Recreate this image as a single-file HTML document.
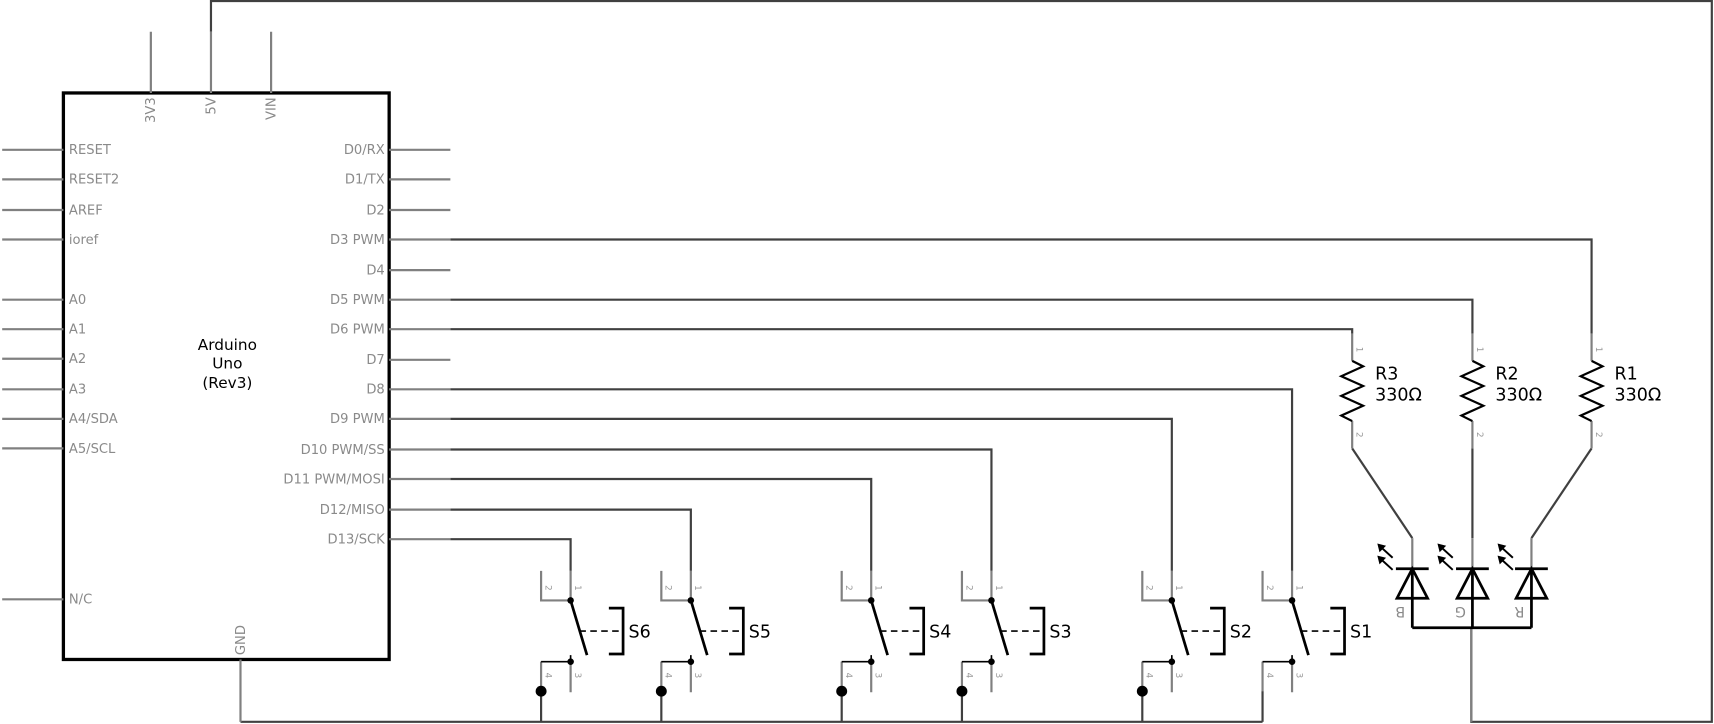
<!DOCTYPE html>
<html><head><meta charset="utf-8"><style>
html,body{margin:0;padding:0;background:#fff}
svg{display:block}
text{font-family:"DejaVu Sans","Liberation Sans",sans-serif}
.pl{fill:#8a8a8a;font-size:12px}
.pn{fill:#999;font-size:8px}
.w{stroke:#404040;stroke-width:2;fill:none}
.p{stroke:#808080;stroke-width:2;fill:none}
.k{stroke:#000;fill:none}
</style></head><body>
<svg width="1714" height="724" viewBox="0 0 1568 662" preserveAspectRatio="none" xmlns="http://www.w3.org/2000/svg">
<rect width="1568" height="662" fill="#fff"/>
<path class="w" d="M193 29 V1 H1566 V660 H1346 V574"/>
<path class="w" d="M412 219 H1456 V305"/>
<path class="w" d="M412 274 H1347 V305"/>
<path class="w" d="M412 301 H1237 V305"/>
<path class="w" d="M412 356 H1182 V522"/>
<path class="w" d="M412 383 H1072 V522"/>
<path class="w" d="M412 411 H907 V522"/>
<path class="w" d="M412 438 H797 V522"/>
<path class="w" d="M412 466 H632 V522"/>
<path class="w" d="M412 493 H522 V522"/>
<path class="w" d="M220 660 H1155"/>
<path class="w" d="M1237 410 L1292 492"/>
<path class="w" d="M1347 410 V492"/>
<path class="w" d="M1456 410 L1401 492"/>
<rect x="58" y="85" width="298" height="518" fill="none" stroke="#000" stroke-width="3"/>
<g class="p">
<path d="M138 29V85M193 29V85M248 29V85M220 603V660"/>
<path d="M2 137H58M2 164H58M2 192H58M2 219H58M2 274H58M2 301H58M2 328H58M2 356H58M2 383H58M2 410H58M2 548H58"/>
<path d="M356 137H412M356 164H412M356 192H412M356 219H412M356 247H412M356 274H412M356 301H412M356 329H412M356 356H412M356 383H412M356 411H412M356 438H412M356 466H412M356 493H412"/>
</g>
<g class="pl">
<text x="63" y="141">RESET</text>
<text x="63" y="168">RESET2</text>
<text x="63" y="196">AREF</text>
<text x="63" y="223">ioref</text>
<text x="63" y="278">A0</text>
<text x="63" y="305">A1</text>
<text x="63" y="332">A2</text>
<text x="63" y="360">A3</text>
<text x="63" y="387">A4/SDA</text>
<text x="63" y="414">A5/SCL</text>
<text x="63" y="552">N/C</text>
</g>
<g class="pl" text-anchor="end">
<text x="352" y="141">D0/RX</text>
<text x="352" y="168">D1/TX</text>
<text x="352" y="196">D2</text>
<text x="352" y="223">D3 PWM</text>
<text x="352" y="251">D4</text>
<text x="352" y="278">D5 PWM</text>
<text x="352" y="305">D6 PWM</text>
<text x="352" y="333">D7</text>
<text x="352" y="360">D8</text>
<text x="352" y="387">D9 PWM</text>
<text x="352" y="415">D10 PWM/SS</text>
<text x="352" y="442">D11 PWM/MOSI</text>
<text x="352" y="470">D12/MISO</text>
<text x="352" y="497">D13/SCK</text>
</g>
<g class="pl" text-anchor="end">
<text transform="translate(142,89) rotate(-90)">3V3</text>
<text transform="translate(197,89) rotate(-90)">5V</text>
<text transform="translate(252,89) rotate(-90)">VIN</text>
</g>
<text class="pl" transform="translate(224,599) rotate(-90)">GND</text>
<g font-size="14" text-anchor="middle" fill="#000">
<text x="208" y="320">Arduino</text>
<text x="208" y="337">Uno</text>
<text x="208" y="355">(Rev3)</text>
</g>
<g class="p"><path d="M1237 305V330M1237 385V410M1347 305V330M1347 385V410M1456 305V330M1456 385V410"/></g>
<g class="k" stroke-width="2">
<path d="M1237 330 L1247 335 L1227 344 L1247 353 L1227 362 L1247 371 L1227 380 L1237 385"/>
<path d="M1347 330 L1357 335 L1337 344 L1357 353 L1337 362 L1357 371 L1337 380 L1347 385"/>
<path d="M1456 330 L1466 335 L1446 344 L1466 353 L1446 362 L1466 371 L1446 380 L1456 385"/>
</g>
<g class="pn">
<text transform="translate(1241,317) rotate(90)">1</text>
<text transform="translate(1241,395) rotate(90)">2</text>
<text transform="translate(1351,317) rotate(90)">1</text>
<text transform="translate(1351,395) rotate(90)">2</text>
<text transform="translate(1460,317) rotate(90)">1</text>
<text transform="translate(1460,395) rotate(90)">2</text>
</g>
<g font-size="16" fill="#000">
<text x="1258" y="347">R3</text><text x="1258" y="366">330Ω</text>
<text x="1368" y="347">R2</text><text x="1368" y="366">330Ω</text>
<text x="1477" y="347">R1</text><text x="1477" y="366">330Ω</text>
</g>
<g class="p"><path d="M1292 492V520M1347 492V520M1401 492V520M1346 574V660"/></g>
<g class="k" stroke-width="2.5">
<path d="M1277 520H1307M1292 520L1278 547H1306Z M1292 520V574"/>
<path d="M1332 520H1362M1347 520L1333 547H1361Z M1347 520V574"/>
<path d="M1386 520H1416M1401 520L1387 547H1415Z M1401 520V574"/>
<path d="M1292 574H1401"/>
</g>
<g stroke="#000" stroke-width="1.8" fill="none">
<path d="M1274 510L1263 500M1274 521L1263 511"/>
<path d="M1329 510L1318 500M1329 521L1318 511"/>
<path d="M1384 510L1373 500M1384 521L1373 511"/>
</g>
<g fill="#000">
<path d="M1260 497L1268 499L1262 505Z M1260 508L1268 510L1262 516Z"/>
<path d="M1315 497L1323 499L1317 505Z M1315 508L1323 510L1317 516Z"/>
<path d="M1370 497L1378 499L1372 505Z M1370 508L1378 510L1372 516Z"/>
</g>
<g class="pl" text-anchor="middle" style="font-size:13px">
<text transform="translate(1281,555) rotate(180)">B</text>
<text transform="translate(1336,555) rotate(180)">G</text>
<text transform="translate(1390,555) rotate(180)">R</text>
</g>
<g transform="translate(522,0)">
<path class="p" d="M-27 522V549H0M0 522V549M0 605V633M-27 605V632"/><path class="w" d="M-27 632V660"/>
<path class="k" stroke-width="1.5" d="M-27 605H0V599"/>
<circle cx="0" cy="549" r="3" fill="#000"/><circle cx="0" cy="605" r="3" fill="#000"/>
<path class="k" stroke-width="2.5" d="M0 549L15 599M35 556H48V598H35"/>
<path class="k" stroke-width="1.5" stroke-dasharray="6,4" d="M8 577H48"/>
<circle cx="-27" cy="632" r="5" fill="#000"/>
<g class="pn"><text transform="translate(-23,535) rotate(90)">2</text><text transform="translate(4,535) rotate(90)">1</text><text transform="translate(-23,615) rotate(90)">4</text><text transform="translate(4,615) rotate(90)">3</text></g>
<text x="53" y="583" font-size="16">S6</text>
</g>
<g transform="translate(632,0)">
<path class="p" d="M-27 522V549H0M0 522V549M0 605V633M-27 605V632"/><path class="w" d="M-27 632V660"/>
<path class="k" stroke-width="1.5" d="M-27 605H0V599"/>
<circle cx="0" cy="549" r="3" fill="#000"/><circle cx="0" cy="605" r="3" fill="#000"/>
<path class="k" stroke-width="2.5" d="M0 549L15 599M35 556H48V598H35"/>
<path class="k" stroke-width="1.5" stroke-dasharray="6,4" d="M8 577H48"/>
<circle cx="-27" cy="632" r="5" fill="#000"/>
<g class="pn"><text transform="translate(-23,535) rotate(90)">2</text><text transform="translate(4,535) rotate(90)">1</text><text transform="translate(-23,615) rotate(90)">4</text><text transform="translate(4,615) rotate(90)">3</text></g>
<text x="53" y="583" font-size="16">S5</text>
</g>
<g transform="translate(797,0)">
<path class="p" d="M-27 522V549H0M0 522V549M0 605V633M-27 605V632"/><path class="w" d="M-27 632V660"/>
<path class="k" stroke-width="1.5" d="M-27 605H0V599"/>
<circle cx="0" cy="549" r="3" fill="#000"/><circle cx="0" cy="605" r="3" fill="#000"/>
<path class="k" stroke-width="2.5" d="M0 549L15 599M35 556H48V598H35"/>
<path class="k" stroke-width="1.5" stroke-dasharray="6,4" d="M8 577H48"/>
<circle cx="-27" cy="632" r="5" fill="#000"/>
<g class="pn"><text transform="translate(-23,535) rotate(90)">2</text><text transform="translate(4,535) rotate(90)">1</text><text transform="translate(-23,615) rotate(90)">4</text><text transform="translate(4,615) rotate(90)">3</text></g>
<text x="53" y="583" font-size="16">S4</text>
</g>
<g transform="translate(907,0)">
<path class="p" d="M-27 522V549H0M0 522V549M0 605V633M-27 605V632"/><path class="w" d="M-27 632V660"/>
<path class="k" stroke-width="1.5" d="M-27 605H0V599"/>
<circle cx="0" cy="549" r="3" fill="#000"/><circle cx="0" cy="605" r="3" fill="#000"/>
<path class="k" stroke-width="2.5" d="M0 549L15 599M35 556H48V598H35"/>
<path class="k" stroke-width="1.5" stroke-dasharray="6,4" d="M8 577H48"/>
<circle cx="-27" cy="632" r="5" fill="#000"/>
<g class="pn"><text transform="translate(-23,535) rotate(90)">2</text><text transform="translate(4,535) rotate(90)">1</text><text transform="translate(-23,615) rotate(90)">4</text><text transform="translate(4,615) rotate(90)">3</text></g>
<text x="53" y="583" font-size="16">S3</text>
</g>
<g transform="translate(1072,0)">
<path class="p" d="M-27 522V549H0M0 522V549M0 605V633M-27 605V632"/><path class="w" d="M-27 632V660"/>
<path class="k" stroke-width="1.5" d="M-27 605H0V599"/>
<circle cx="0" cy="549" r="3" fill="#000"/><circle cx="0" cy="605" r="3" fill="#000"/>
<path class="k" stroke-width="2.5" d="M0 549L15 599M35 556H48V598H35"/>
<path class="k" stroke-width="1.5" stroke-dasharray="6,4" d="M8 577H48"/>
<circle cx="-27" cy="632" r="5" fill="#000"/>
<g class="pn"><text transform="translate(-23,535) rotate(90)">2</text><text transform="translate(4,535) rotate(90)">1</text><text transform="translate(-23,615) rotate(90)">4</text><text transform="translate(4,615) rotate(90)">3</text></g>
<text x="53" y="583" font-size="16">S2</text>
</g>
<g transform="translate(1182,0)">
<path class="p" d="M-27 522V549H0M0 522V549M0 605V633M-27 605V632"/><path class="w" d="M-27 632V660"/>
<path class="k" stroke-width="1.5" d="M-27 605H0V599"/>
<circle cx="0" cy="549" r="3" fill="#000"/><circle cx="0" cy="605" r="3" fill="#000"/>
<path class="k" stroke-width="2.5" d="M0 549L15 599M35 556H48V598H35"/>
<path class="k" stroke-width="1.5" stroke-dasharray="6,4" d="M8 577H48"/>
<g class="pn"><text transform="translate(-23,535) rotate(90)">2</text><text transform="translate(4,535) rotate(90)">1</text><text transform="translate(-23,615) rotate(90)">4</text><text transform="translate(4,615) rotate(90)">3</text></g>
<text x="53" y="583" font-size="16">S1</text>
</g>
</svg>
</body></html>
